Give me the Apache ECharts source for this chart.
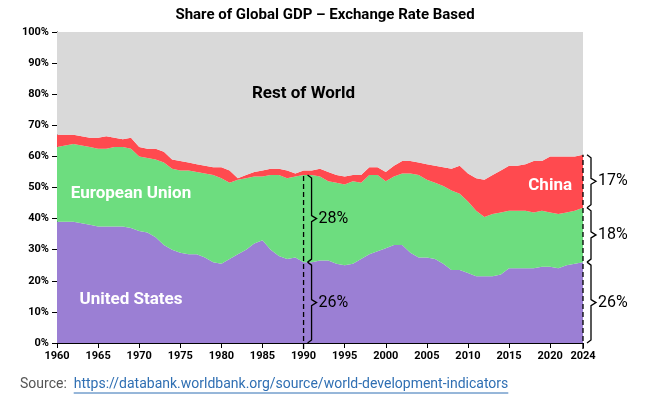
<!DOCTYPE html>
<html>
<head>
<meta charset="utf-8">
<script src="https://cdn.jsdelivr.net/npm/echarts@6/dist/echarts.min.js"></script>
<style>
  html, body { margin: 0; padding: 0; background: #fff; }
  #chart { width: 650px; height: 403px; }
</style>
</head>
<body>
<div id="chart"></div>
<script>
// years 1960..2024
const years = [];
for (let y = 1960; y <= 2024; y++) years.push(String(y));

// cumulative tops (% of world GDP)
const usTop = [39,39,39,38.5,38,37.5,37.5,37.5,37.5,37,36,35.5,34,31.5,30,29,28.5,28.5,27.5,26,25.5,27,28.5,30,32,33,30,28,27,27.5,26,26,26.5,26.5,25.5,25,25.5,27,28.5,29.5,30.5,31.5,31.5,29,27.5,27.5,27,25.5,23.5,23.5,22.5,21.5,21.5,21.5,22,24,24,24,24,24.5,24.5,24,25,25.5,26];
const euTop = [63,63.5,64,63.5,63,62.5,62.5,63,63,62.5,60,59.5,59,58,56,55.5,55.5,55,54.5,54,53,51.5,52.5,53,53.5,53.5,54,54,53,53.5,54,54,53.5,52,51.5,51,52,51.5,54,54,52,53.5,54.5,54.5,54,52.5,51.5,50.5,49,48,45.5,42.5,40.5,41.5,42,42.5,42.5,42.5,42,42.5,42,41.5,42,42.5,43.5];
const chinaTop = [67,67,67,66.5,66,66,66.5,66,65.5,66,63,62.5,62.5,61.5,59,58.5,58,57.5,57,56.5,56.5,55.5,53,54,55,55.5,56,56,55.5,54.5,55.5,55.5,56,55,54,53.5,54,54,56.5,56.5,55,57,58.5,58.5,58,57.5,57,56.5,56,57,54.5,53,52.5,54,55.5,57,57,57.5,58.5,58.5,60,60,60,60,60.5];

const usShare = usTop;
const euShare = euTop.map((v, i) => +(v - usTop[i]).toFixed(1));
const chinaShare = chinaTop.map((v, i) => +(v - euTop[i]).toFixed(1));
const rowShare = chinaTop.map(v => +(100 - v).toFixed(1));

const chart = echarts.init(document.getElementById("chart"));
const showYear = (i) => (1960 + i) % 5 === 0 || 1960 + i === 2024;

const area = (name, data, color) => ({
  name, type: "line", stack: "gdp", data,
  symbol: "none", lineStyle: { width: 0 },
  areaStyle: { color, opacity: 1 }, itemStyle: { color }
});

chart.setOption({
  animation: false,
  title: {
    text: "Share of Global GDP \u2013 Exchange Rate Based",
    left: 320, top: 3, textAlign: "center",
    textStyle: { fontFamily: "Roboto", fontSize: 15, fontWeight: "bold", color: "#000" }
  },
  grid: { left: 57, right: 67, top: 32, bottom: 60 },
  xAxis: {
    type: "category", data: years, boundaryGap: false,
    axisLine: { lineStyle: { color: "#000" } },
    axisTick: { interval: (i) => showYear(i), lineStyle: { color: "#000" } },
    axisLabel: { interval: (i) => showYear(i), color: "#000", fontWeight: "bold", fontSize: 11, fontFamily: "Roboto" }
  },
  yAxis: {
    type: "value", min: 0, max: 100, interval: 10,
    splitLine: { show: false },
    axisLine: { show: true, lineStyle: { color: "#000" } },
    axisTick: { show: true, lineStyle: { color: "#000" } },
    axisLabel: { formatter: "{value}%", color: "#000", fontWeight: "bold", fontSize: 11, fontFamily: "Roboto" }
  },
  series: [
    area("United States", usShare, "#9b7fd4"),
    area("European Union", euShare, "#6ddd7f"),
    area("China", chinaShare, "#ff4a4f"),
    area("Rest of World", rowShare, "#d9d9d9")
  ]
});

// annotations positioned through the chart's own scales
const px = (yr, v) => chart.convertToPixel({ gridIndex: 0 }, [yr - 1960, v]);
const g = [];
const label = (t, yr, v, color, size) => {
  const p = px(yr, v);
  g.push({ type: "text", x: p[0], y: p[1], z: 100,
    style: { text: t, fill: color, font: "bold " + size + "px Roboto", textAlign: "center", textVerticalAlign: "middle", align: "center", verticalAlign: "middle" } });
};
label("Rest of World", 1990, 80, "#000", 17);
label("European Union", 1969, 48, "#fff", 17);
label("United States", 1969, 14, "#fff", 17);
label("China", 2020, 50.5, "#fff", 17);

const brace = (yr, lo, hi, txt) => {
  const a = px(yr, lo), b = px(yr, hi);
  const x = a[0] + 4, y1 = b[1], y2 = a[1], m = (y1 + y2) / 2;
  g.push({ type: "polyline", z: 100, shape: { points: [[x, y1], [x + 4, y1 + 3], [x + 4, m - 3], [x + 9, m], [x + 4, m + 3], [x + 4, y2 - 3], [x, y2]] },
    style: { stroke: "#000", lineWidth: 1.3, fill: null } });
  g.push({ type: "text", x: x + 11, y: m, z: 100,
    style: { text: txt, fill: "#000", font: "16px Roboto", verticalAlign: "middle", textVerticalAlign: "middle" } });
};
const dash = (yr, top) => {
  const a = px(yr, 0), b = px(yr, top);
  g.push({ type: "line", z: 100, shape: { x1: a[0], y1: a[1] + 6, x2: b[0], y2: b[1] },
    style: { stroke: "#000", lineWidth: 1.3, lineDash: [5, 3] } });
};
dash(1990, 54.5);
dash(2024, 60.5);
brace(1990, 0, 26, "26%");
brace(1990, 26, 54, "28%");
brace(2024, 0, 26, "26%");
brace(2024, 26, 43.5, "18%");
brace(2024, 43.5, 60.5, "17%");

const link = "https://databank.worldbank.org/source/world-development-indicators";
const ctx = document.createElement("canvas").getContext("2d");
ctx.font = "14px Roboto";
const linkW = ctx.measureText(link).width;
const src = "Source:  ";
const srcW = ctx.measureText(src).width;
g.push({ type: "text", x: 20, y: 377, z: 100,
  style: { text: src, fill: "#555", font: "14px Roboto" } });
g.push({ type: "text", x: 20 + srcW, y: 377, z: 100,
  style: { text: link, fill: "#2f6fb3", font: "14px Roboto" } });
g.push({ type: "line", z: 100, shape: { x1: 20 + srcW, y1: 393, x2: 20 + srcW + linkW, y2: 393 }, style: { stroke: "#2f6fb3", lineWidth: 1 } });

chart.setOption({ graphic: { elements: g } });
</script>
</body>
</html>
